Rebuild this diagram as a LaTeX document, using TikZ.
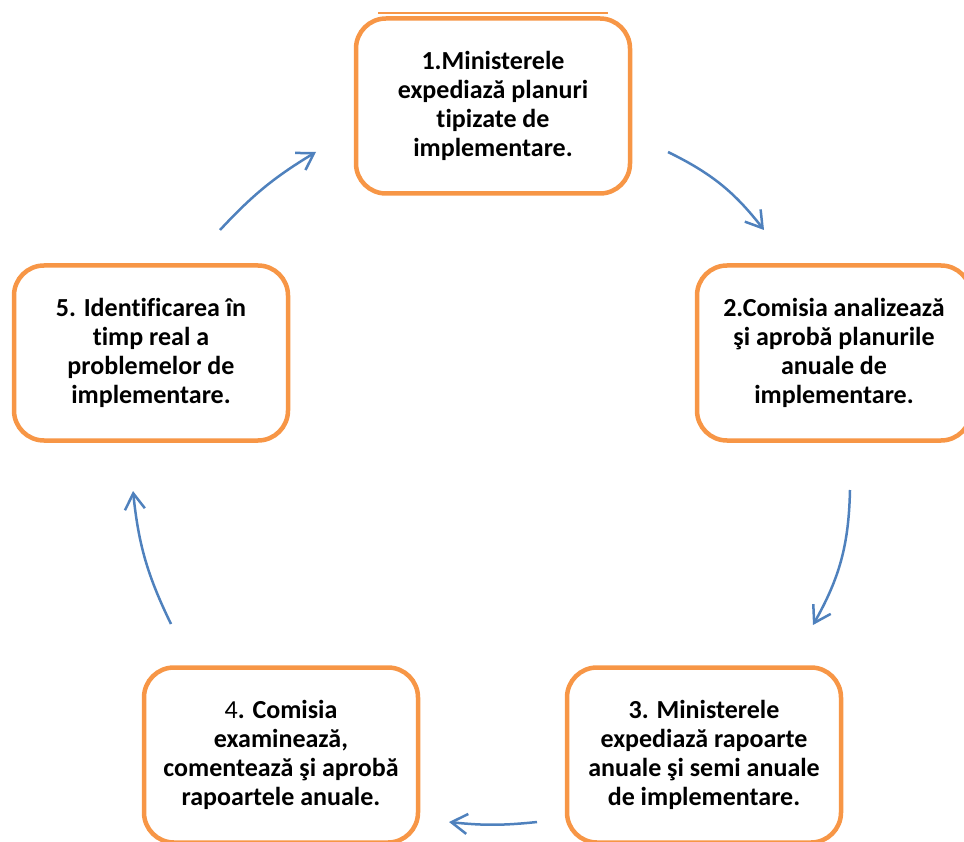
\documentclass[tikz,border=0pt]{standalone}
\usepackage{fontspec}
\setmainfont{Carlito}[Ligatures=NoCommon]
\usetikzlibrary{arrows.meta}
\definecolor{portocaliu}{HTML}{F79646}
\definecolor{albastru}{HTML}{4F81BD}
\begin{document}
\begin{tikzpicture}[x=1pt,y=-1pt,
  etapa/.style={draw=portocaliu, line width=4.5pt, rounded corners=30pt,
    fill=white, minimum width=274pt, minimum height=175pt, align=center,
    font=\fontsize{26}{29}\selectfont\bfseries},
  sageata/.style={draw=albastru, line width=2.5pt,
    -{Straight Barb[length=16pt,width=20pt]}}]

  \useasboundingbox (0,0) rectangle (964,842);
  \clip (0,0) rectangle (964,842);

  % the five steps
  \draw[portocaliu, line width=1.5pt] (378,13) -- (608,13);
  \node[etapa] (pas1) at (493,106) {1.Ministerele\\expediază planuri\\tipizate de\\implementare.};
  \node[etapa] (pas2) at (834,353) {2.Comisia analizează\\şi aprobă planurile\\anuale de\\implementare.};
  \node[etapa] (pas3) at (704,755) {3. Ministerele\\expediază rapoarte\\anuale şi semi anuale\\de implementare.};
  \node[etapa] (pas4) at (281,755) {{\mdseries 4}. Comisia\\examinează,\\comentează şi aprobă\\rapoartele anuale.};
  \node[etapa] (pas5) at (151,353) {5. Identificarea în\\timp real a\\problemelor de\\implementare.};

  % arrow ends
  \coordinate (s12a) at (668,152);
  \coordinate (s12b) at (764,230);
  \coordinate (s23a) at (850,490);
  \coordinate (s23b) at (813,625);
  \coordinate (s34a) at (537,822);
  \coordinate (s34b) at (449,822);
  \coordinate (s45a) at (171,624);
  \coordinate (s45b) at (133,491);
  \coordinate (s51a) at (220,230);
  \coordinate (s51b) at (316,152);

  % the cycle
  \draw[sageata] (s12a) to[bend left=13] (s12b);
  \draw[sageata] (s23a) to[bend left=14] (s23b);
  \draw[sageata] (s34a) to[bend left=6] (s34b);
  \draw[sageata] (s45a) to[bend left=10] (s45b);
  \draw[sageata] (s51a) to[bend left=8] (s51b);
\end{tikzpicture}
\end{document}
